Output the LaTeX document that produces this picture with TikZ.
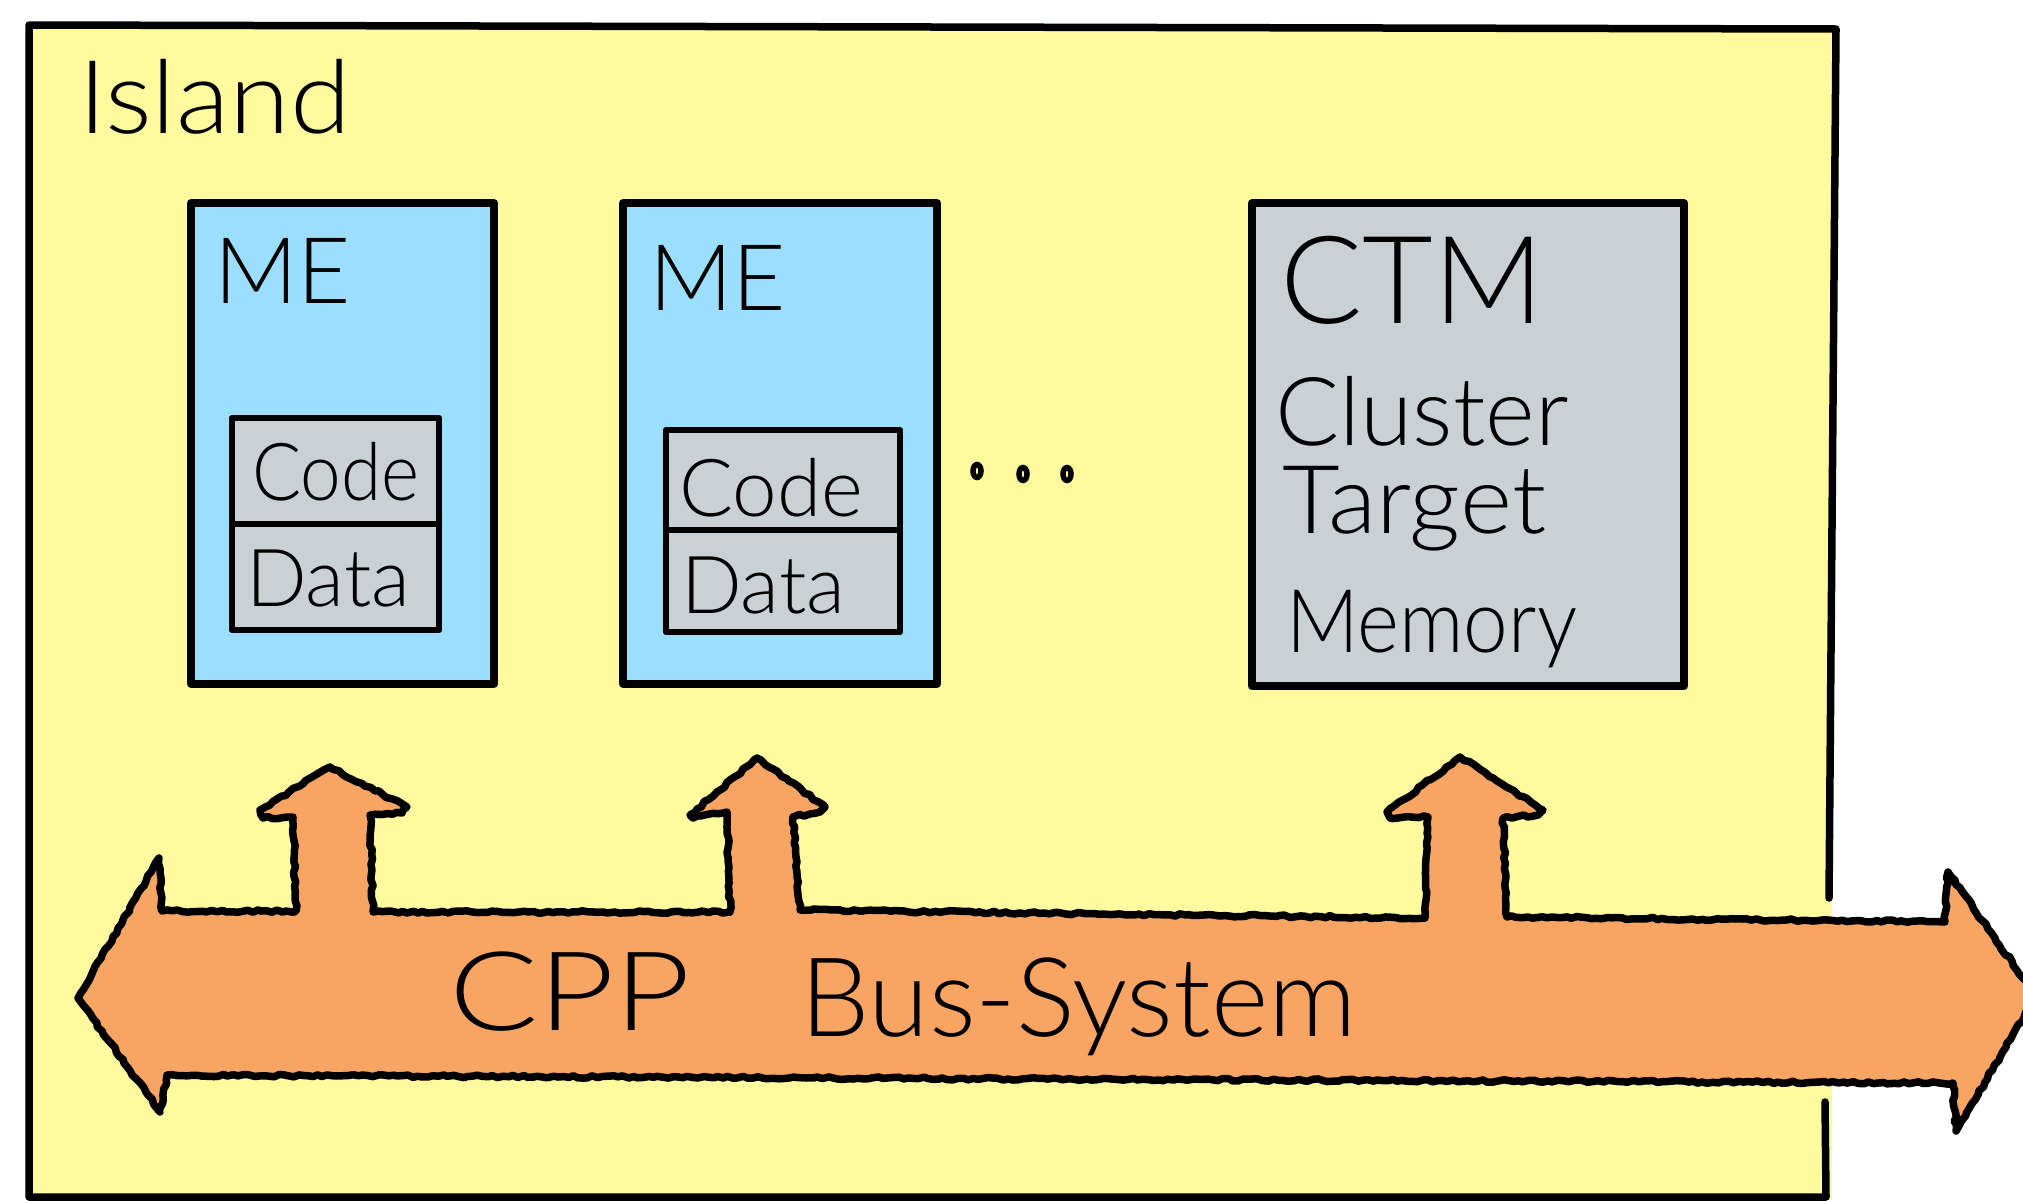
\documentclass[tikz,border=0pt]{standalone}
\usepackage{fontspec}
\IfFontExistsTF{Lato Light}{\setmainfont{Lato Light}}{\setmainfont{PT Sans}}
\usetikzlibrary{decorations.pathmorphing}

\definecolor{islandyellow}{RGB}{255,250,158}
\definecolor{meblue}{RGB}{155,222,253}
\definecolor{memgrey}{RGB}{202,209,212}
\definecolor{busorange}{RGB}{248,164,98}

\newcommand\handsize[1]{\fontsize{#1}{#1}\selectfont}

\tikzset{
  outline/.style={draw=black, line width=7.5pt, line join=round, line cap=round},
  mebox/.style={outline, fill=meblue, rectangle, inner sep=0pt},
  ctmbox/.style={outline, fill=memgrey, rectangle, inner sep=0pt},
  cell/.style={outline, line width=6.5pt, fill=memgrey, rectangle, inner sep=0pt},
  label/.style={inner sep=0pt, anchor=base west, text=black},
  rough/.style={decorate, decoration={random steps, segment length=5pt, amplitude=1.3pt}},
  dot/.style={draw=black, line width=5.5pt}
}

\begin{document}
\begin{tikzpicture}[x=1pt, y=-1pt]
  \pgfmathsetseed{11}
  \useasboundingbox (0,0) rectangle (2023,1200);
  \clip (0,0) rectangle (2023,1200);

  % island background and its border (broken where the bus leaves it)
  \fill[islandyellow] (29,26) rectangle (1832,1200);
  \draw[outline] (1829,898) -- (1836,29) -- (29,25) -- (29,1197)
                 -- (1826,1197) -- (1825,1102);
  \node[label, font=\handsize{102pt}] (island) at (78,133) {\scalebox{1.08}[1]{Island}};

  % micro engines
  \node[mebox, minimum width=303pt, minimum height=481pt] (me1) at (342.5,443.5) {};
  \node[mebox, minimum width=314pt, minimum height=481pt] (me2) at (780,443.5) {};
  \node[label, font=\handsize{92pt}] (me1t) at (214,303) {ME};
  \node[label, font=\handsize{92pt}] (me2t) at (649,310) {ME};

  % code / data stores inside each engine
  \node[cell, minimum width=207pt, minimum height=106pt] (code1) at (335.5,471) {};
  \node[cell, minimum width=207pt, minimum height=106pt] (data1) at (335.5,577) {};
  \node[cell, minimum width=234pt, minimum height=100pt] (code2) at (783,480) {};
  \node[cell, minimum width=234pt, minimum height=102pt] (data2) at (783,581) {};
  \node[label, font=\handsize{80pt}] (code1t) at (252,500) {\scalebox{0.91}[1]{Code}};
  \node[label, font=\handsize{80pt}] (data1t) at (246,606) {Data};
  \node[label, font=\handsize{80pt}] (code2t) at (679,516) {Code};
  \node[label, font=\handsize{80pt}] (data2t) at (681,613) {Data};

  % ellipsis between the engines and the CTM
  \draw[dot] (977,471) ellipse [x radius=4pt, y radius=6.5pt];
  \draw[dot] (1023,474) ellipse [x radius=4pt, y radius=6.5pt];
  \draw[dot] (1067,474) ellipse [x radius=4pt, y radius=6.5pt];

  % cluster target memory
  \node[ctmbox, minimum width=432pt, minimum height=483pt] (ctm) at (1468,444.5) {};
  \node[label, font=\handsize{122pt}] (ctmt) at (1280,323) {CTM};
  \node[label, font=\handsize{95pt}] (ctm1) at (1275,445) {Cluster};
  \node[label, font=\handsize{95pt}] (ctm2) at (1282,533) {\scalebox{1.05}[1]{Target}};
  \node[label, font=\handsize{88pt}] (ctm3) at (1286,652) {\scalebox{0.91}[1]{Memory}};

  % CPP bus: double-headed block arrow with three branches up
  \path[fill=busorange]
    (78,998) -- (159,858) -- (162,911) -- (296,911)
    -- (293,817) -- (263,818) -- (260,810) -- (330,767) -- (407,807) -- (402,813) -- (370,815)
    -- (373,912) -- (730,912)
    -- (727,812) -- (693,818) -- (690,815) -- (757,758) -- (825,807) -- (820,812) -- (793,817)
    -- (800,910) -- (1425,918)
    -- (1428,817) -- (1390,818) -- (1387,812) -- (1460,757) -- (1543,810) -- (1538,815) -- (1503,818)
    -- (1507,917) -- (1945,922)
    -- (1948,872) -- (2036,996) -- (1956,1131) -- (1953,1083)
    -- (167,1075) -- (160,1112) -- cycle;
  \draw[outline, rough]
    (78,998) -- (159,858) -- (162,911) -- (296,911)
    -- (293,817) -- (263,818) -- (260,810) -- (330,767) -- (407,807) -- (402,813) -- (370,815)
    -- (373,912) -- (730,912)
    -- (727,812) -- (693,818) -- (690,815) -- (757,758) -- (825,807) -- (820,812) -- (793,817)
    -- (800,910) -- (1425,918)
    -- (1428,817) -- (1390,818) -- (1387,812) -- (1460,757) -- (1543,810) -- (1538,815) -- (1503,818)
    -- (1507,917) -- (1945,922)
    -- (1948,872) -- (2036,996) -- (1956,1131) -- (1953,1083)
    -- (167,1075) -- (160,1112) -- cycle;
  \node[label, font=\handsize{110pt}] (cpp) at (449,1030) {\scalebox{1.2}[1]{CPP}};
  \node[label, font=\handsize{110pt}] (bus) at (800,1036) {Bus-System};
\end{tikzpicture}
\end{document}
